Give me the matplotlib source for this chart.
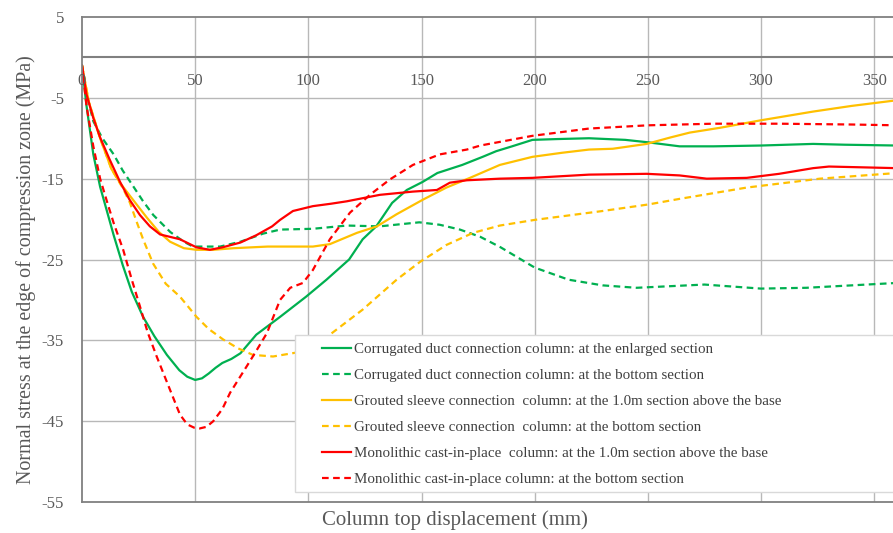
import matplotlib
matplotlib.use("Agg")
from matplotlib import pyplot as plt
from matplotlib.patches import Rectangle

# Corrugated duct connection column: enlarged section (green solid)
gs_x = [0, 2, 5, 8, 10.5, 14, 18, 22, 27, 32, 37.5, 43, 46.5, 50, 53, 56, 59, 62, 66, 70, 77, 87.5, 99, 108, 118, 124,
        130, 137, 143.5, 150.5, 157, 168, 177, 183, 190, 199, 210, 224, 240, 250, 264, 279, 300, 323, 337, 360]
gs_y = [-1, -6, -12, -16, -18.5, -22, -25.7, -29, -32.1, -34.5, -36.8, -38.7, -39.5, -39.9, -39.7, -39.1, -38.4, -37.8,
        -37.3, -36.6, -34.3, -32.1, -29.6, -27.5, -25, -22.5, -20.9, -18, -16.4, -15.4, -14.3, -13.3, -12.3, -11.6, -11,
        -10.2, -10.1, -10.0, -10.2, -10.5, -11.0, -11.0, -10.9, -10.7, -10.8, -10.9]

# Corrugated duct connection column: bottom section (green dashed)
gd_x = [0, 2, 5, 9, 14, 18, 23, 27, 31.5, 39, 45, 49, 55, 61, 70, 80, 87.5, 102, 117, 131.5, 149, 158, 167, 176, 185,
        200, 215, 230, 245, 260, 275, 300, 320, 340, 360]
gd_y = [-1, -4.5, -7.9, -10, -12, -14, -16.1, -17.8, -19.5, -21.6, -22.8, -23.4, -23.4, -23.4, -22.8, -21.8, -21.3,
        -21.2, -20.8, -20.9, -20.4, -20.7, -21.3, -22.2, -23.5, -26, -27.5, -28.2, -28.5, -28.3, -28.1, -28.6, -28.5,
        -28.2, -27.9]

# Grouted sleeve connection column: 1.0m section (orange solid)
os_x = [0, 3, 8, 13, 17, 22.5, 28.6, 34, 38.9, 45, 50.6, 58, 67, 82, 96, 102, 109.5, 121.5, 130.3, 139, 150.6, 161,
        171.4, 184.6, 199, 212, 224, 234.5, 249.5, 260, 268.5, 282, 299.5, 323, 340, 360]
os_y = [-1, -5.5, -10, -13.8, -15.6, -17.6, -19.8, -21.6, -22.8, -23.6, -23.8, -23.8, -23.6, -23.4, -23.4, -23.4, -23.1,
        -21.7, -20.9, -19.4, -17.6, -16.1, -14.9, -13.3, -12.3, -11.8, -11.4, -11.3, -10.7, -9.9, -9.3, -8.7, -7.8,
        -6.7, -6.0, -5.3]

# Grouted sleeve connection column: bottom section (orange dashed)
od_x = [0, 3, 8, 13, 18.3, 21.2, 24.1, 27, 31.4, 37, 43.3, 50.6, 56, 62.4, 69, 75.5, 84.4, 95, 102, 109.5, 124, 139,
        149.3, 161, 172.8, 184.6, 200, 230, 250, 264, 293.7, 326, 360]
od_y = [-1, -5.5, -10, -13.8, -16.3, -18, -20.3, -22.5, -25.5, -28, -29.6, -32.1, -33.6, -34.9, -36, -36.8, -37.0,
        -36.5, -35.6, -34.3, -31.2, -27.5, -25.3, -23.2, -21.7, -20.8, -20.1, -19.0, -18.2, -17.5, -16.1, -15.0, -14.3]

# Monolithic cast-in-place column: 1.0m section (red solid)
rs_x = [0, 2, 5, 8, 12, 16.8, 21, 25.6, 30, 34.5, 43.3, 50.6, 56.5, 62, 70, 77, 84, 87.5, 93.2, 102, 110, 117, 131.6,
        146.2, 156.8, 162.5, 170, 184.6, 199, 224, 249.5, 264, 276, 293.7, 308, 323, 330, 345, 360]
rs_y = [-1, -4.6, -7.5, -9.9, -12.5, -15.4, -17.6, -19.5, -20.9, -21.9, -22.5, -23.5, -23.8, -23.5, -22.9, -22, -20.9,
        -20.1, -19, -18.4, -18.1, -17.8, -17, -16.6, -16.4, -15.5, -15.2, -15, -14.9, -14.5, -14.4, -14.6, -15.0,
        -14.9, -14.4, -13.7, -13.5, -13.6, -13.7]

# Monolithic cast-in-place column: bottom section (red dashed)
rd_x = [0, 2, 5, 8, 11, 14, 18.2, 22, 25.6, 29, 33, 38, 43.3, 46.5, 49.5, 52, 55, 58, 62, 65.4, 72.8, 77, 81.7, 87.5,
        92, 97.6, 102, 109.5, 118.4, 127.2, 136, 146.2, 158, 170, 176, 199, 224, 250, 279, 308, 340, 360]
rd_y = [-1, -6, -11, -15, -17.8, -20.5, -23.8, -27.5, -30.8, -34, -37, -40.5, -44.2, -45.4, -45.8, -45.9, -45.7, -45.0,
        -43.5, -41.5, -38.2, -36.3, -34.1, -30, -28.5, -27.9, -26.3, -22.5, -19.2, -17, -15.1, -13.3, -12, -11.4, -10.9,
        -9.7, -8.8, -8.4, -8.2, -8.2, -8.3, -8.4]

labels = ["Corrugated duct connection column: at the enlarged section",
          "Corrugated duct connection column: at the bottom section",
          "Grouted sleeve connection  column: at the 1.0m section above the base",
          "Grouted sleeve connection  column: at the bottom section",
          "Monolithic cast-in-place  column: at the 1.0m section above the base",
          "Monolithic cast-in-place column: at the bottom section"]

x_ticks = [0, 50, 100, 150, 200, 250, 300, 350]
y_ticks = [-55, -45, -35, -25, -15, -5, 5]

GREEN = "#00B050"
ORANGE = "#FFC000"
RED = "#FF0000"
GRAY = "#595959"

plt.rcParams["font.family"] = ["Liberation Serif", "DejaVu Serif"]

W, H = 893, 533
fig = plt.figure(figsize=(W / 100, H / 100), dpi=100)
ax = fig.add_axes([82 / W, 31 / H, 811 / W, 485 / H])

ax.set_xlim(0, 358.3)
ax.set_ylim(-55, 5)

for xv in x_ticks[1:]:
    ax.axvline(xv, color="#b8b8b8", lw=1, zorder=0)
for yv in y_ticks[1:-1]:
    ax.axhline(yv, color="#b8b8b8", lw=1, zorder=0)
ax.axhline(0, color="#808080", lw=1.5, zorder=1)

dash = (0, (3, 2))
ax.plot(gs_x, gs_y, color=GREEN, lw=1.6, label=labels[0])
ax.plot(gd_x, gd_y, color=GREEN, lw=1.6, ls=dash, label=labels[1])
ax.plot(os_x, os_y, color=ORANGE, lw=1.6, label=labels[2])
ax.plot(od_x, od_y, color=ORANGE, lw=1.6, ls=dash, label=labels[3])
ax.plot(rs_x, rs_y, color=RED, lw=1.6, label=labels[4])
ax.plot(rd_x, rd_y, color=RED, lw=1.6, ls=dash, label=labels[5])

ax.set_xticks([])
ax.set_yticks(y_ticks)
ax.set_yticklabels([str(v) for v in y_ticks], fontsize=12, color=GRAY)
ax.tick_params(axis="y", length=0, pad=13)
for xv in x_ticks:
    ax.text(xv, -2.9, str(xv), ha="center", va="center", fontsize=12, color=GRAY)

for side in ["left", "bottom", "top"]:
    ax.spines[side].set_color("#808080")
    ax.spines[side].set_linewidth(1.3)
ax.spines["right"].set_visible(False)

ax.set_ylabel("Normal stress at the edge of compression zone (MPa)", fontsize=14.4, color=GRAY)
ax.yaxis.set_label_coords((36 - 82) / 811, (502 - 270) / 485)
fig.text(455 / W, 1 - 520 / H, "Column top displacement (mm)", ha="center", va="center",
         fontsize=15, color=GRAY)

# legend box (extends past the right edge like the original)
box = Rectangle((295 / W, 1 - 492 / H), 620 / W, (492 - 335) / H, transform=fig.transFigure,
                facecolor="white", edgecolor="#d9d9d9", lw=1, zorder=5)
fig.patches.append(box)

leg = fig.legend(loc="upper left", bbox_to_anchor=(322 / W, 1 - 343 / H), borderaxespad=0, borderpad=0,
                 fontsize=10.8, frameon=False, handlelength=1.93, handletextpad=0.2, labelspacing=0.83)
leg.set_zorder(6)
for t in leg.get_texts():
    t.set_color("#404040")

fig.savefig("out.png", dpi=100)
